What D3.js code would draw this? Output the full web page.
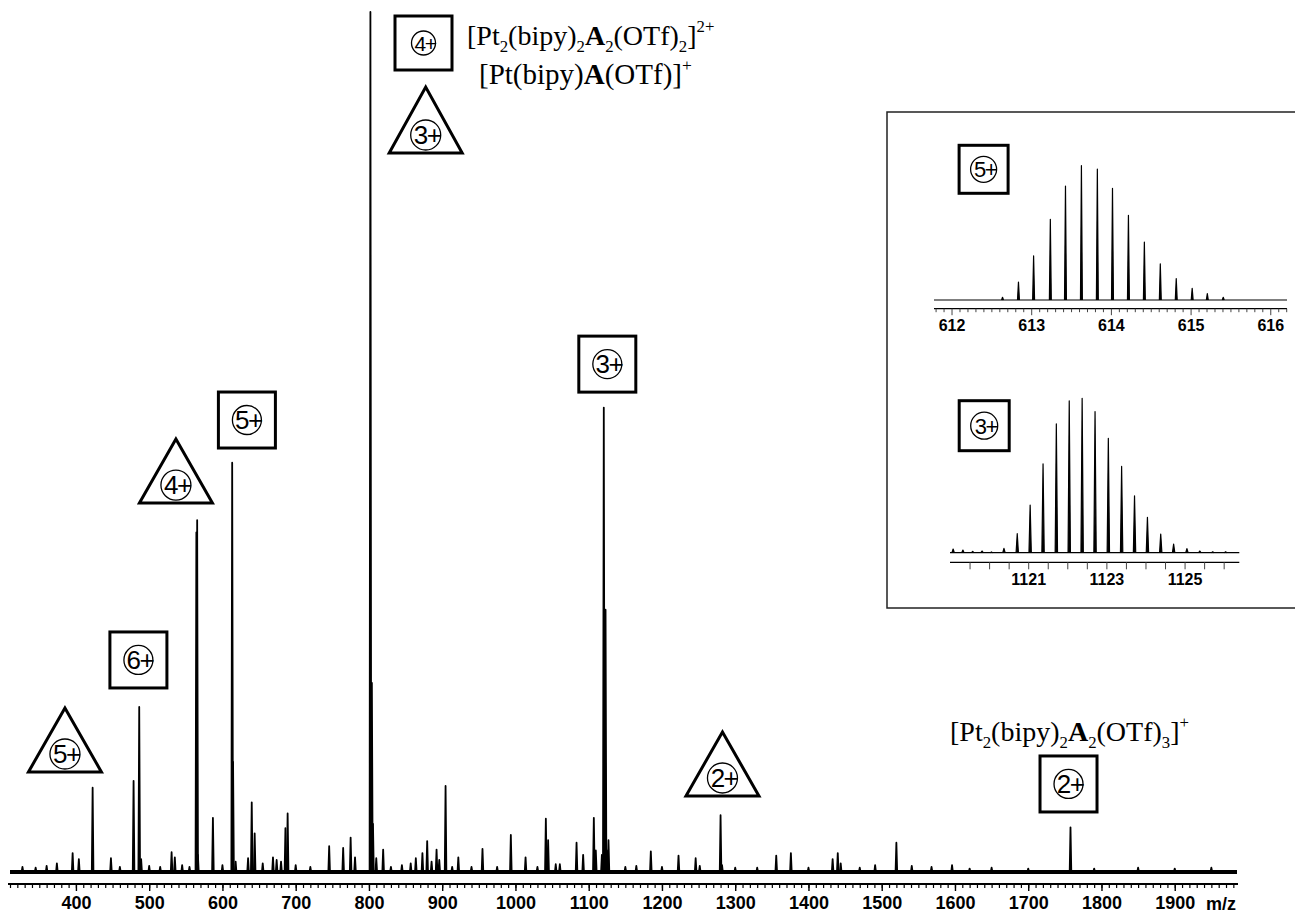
<!DOCTYPE html>
<html><head><meta charset="utf-8">
<script src="https://cdn.jsdelivr.net/npm/d3@7"></script>
<style>body{margin:0;background:#fff}svg{display:block}</style>
</head><body>
<svg id="c" width="1295" height="913"></svg>
<script>
// ---------- DATA ----------
// main spectrum: peak m/z and relative intensity (%)
const mainMz  = [327,345,360,374,395.5,404,422.8,447.8,460,478.7,486.4,489,500,515,530.6,535,545,555,564.4,565.5,566.5,587,600,613.3,614.5,618,635,640,644,655,669,674,680,686,689,700,720,745.7,764.8,775,781,802,804,805.5,810,819.4,830,845,857,864,873,879.5,885.5,892.3,896,904.6,913.6,922,940,955,975,993.7,1013.8,1030,1041.5,1044.6,1055,1060.6,1083.4,1092.4,1107,1109.7,1118,1120.6,1123,1125,1127,1150,1165,1184.8,1200,1222.6,1246,1251.6,1280,1282,1300,1330,1356,1376,1400,1433,1440,1444,1470,1491,1520,1541,1568,1596,1620,1650,1700,1757.7,1790,1850,1900,1950];
const mainInt = [0.6,0.5,0.7,1.0,2.2,1.5,9.8,1.6,0.6,10.6,19.2,1.5,0.7,0.6,2.3,1.7,0.8,0.6,39.5,40.9,2.0,6.3,0.8,47.6,12.8,1.2,1.6,8.1,4.5,1.0,1.7,1.4,1.2,5.1,6.8,0.8,0.6,3.0,2.8,4.0,1.7,100,22,5.6,1.6,2.6,0.6,0.8,1.0,1.6,2.2,3.6,1.2,2.6,1.4,10.0,0.6,1.7,0.6,2.7,0.6,4.3,1.7,0.6,6.2,3.7,0.9,0.9,3.4,2.0,6.3,2.5,2.0,54,30.5,2.5,3.7,0.6,0.7,2.4,0.6,1.9,1.6,0.7,6.6,0.8,0.5,0.5,1.9,2.2,0.5,1.5,2.2,1.0,0.5,0.8,3.4,0.7,0.6,0.8,0.4,0.5,0.4,5.2,0.4,0.5,0.4,0.5];
const mainTicksMajor = [400,500,600,700,800,900,1000,1100,1200,1300,1400,1500,1600,1700,1800,1900];

// inset 1: isotope pattern of the 5+ ion
const inset1Mz  = [612.64,612.84,613.03,613.24,613.43,613.63,613.83,614.02,614.22,614.42,614.62,614.82,615.02,615.21,615.41];
const inset1Int = [2.0,13.4,32.8,60.1,84.9,100,97.5,83.2,63.1,43.2,27.0,15.9,8.7,4.7,2.0];
const inset1Labels = [612,613,614,615,616];

// inset 2: isotope pattern of the 3+ ion
const inset2Mz  = [1119.08,1119.33,1119.58,1119.82,1120.06,1120.38,1120.72,1121.05,1121.38,1121.72,1122.05,1122.38,1122.71,1123.05,1123.39,1123.72,1124.05,1124.39,1124.72,1125.06,1125.39,1125.72,1126.05];
const inset2Int = [2.4,1.7,0.9,1.1,0.5,2.8,12.3,30.9,57.5,83.4,98.3,100,91.4,74.1,55.9,36.9,22.9,12.1,5.6,2.6,1.1,0.6,0.6];
const inset2Labels = [1121,1123,1125];

// charge-state markers (shape, charge, anchor m/z, anchor intensity = bottom of marker)
const markerShape  = ["tri","box","tri","box","box","tri","box"];
const markerCharge = ["5","6","4","5","3","2","2"];
const markerMz     = [385,485.3,536.5,633.4,1125.4,1282.6,1755];
const markerInt    = [11.63,21.4,42.9,49.3,55.8,8.84,6.98];

// ---------- DRAW ----------
const svg = d3.select("#c");
const x = d3.scaleLinear().domain([310,1985]).range([10,1237]);
const y = d3.scaleLinear().domain([0,100]).range([872,12]);
const SANS = "'Liberation Sans',Arial,Helvetica,sans-serif";

function peakPath(mz, h, hw, xs, ys){
  return d3.line().x(d=>xs(d[0])).y(d=>ys(d[1]))([[mz-hw,0],[mz,h],[mz+hw,0]]);
}

// main baseline
svg.append("line").attr("x1",x(310)).attr("x2",x(1985)).attr("y1",y(0)).attr("y2",y(0))
  .attr("stroke","#000").attr("stroke-width",4);
svg.append("g").selectAll("path").data(d3.range(mainMz.length)).join("path")
  .attr("d",i=>peakPath(mainMz[i],mainInt[i],1.1,x,y))
  .attr("fill","#000").attr("stroke","#000").attr("stroke-width",1.8).attr("stroke-linejoin","round");

// main axis
const axY = 884;
const gAx = svg.append("g").attr("transform",`translate(0,${axY})`);
gAx.append("line").attr("x1",8).attr("x2",1238).attr("stroke","#000").attr("stroke-width",2);
gAx.append("g").call(d3.axisBottom(x).tickValues(d3.range(310,1990,10)).tickSize(4).tickFormat(""))
  .call(g=>g.select(".domain").remove()).selectAll("line").attr("stroke-width",1.2);
gAx.append("g").call(d3.axisBottom(x).tickValues(mainTicksMajor).tickSize(7).tickPadding(5).tickFormat(d3.format("d")))
  .call(g=>g.select(".domain").remove())
  .call(g=>g.selectAll("line").attr("stroke-width",1.4))
  .call(g=>g.selectAll("text").attr("font-family",SANS).attr("font-weight","bold").attr("font-size",18).attr("fill","#000"));
svg.append("text").attr("x",1221).attr("y",910).attr("text-anchor","middle")
  .attr("font-family",SANS).attr("font-weight","bold").attr("font-size",18).text("m/z");

// symbols
function circled(g, cx, cy, r, txt, fs){
  g.append("circle").attr("cx",cx).attr("cy",cy).attr("r",r).attr("fill","none").attr("stroke","#000").attr("stroke-width",1.3);
  g.append("text").attr("x",cx+1.5).attr("y",cy+fs*0.36).attr("text-anchor","middle")
    .attr("font-family",SANS).attr("font-size",fs).attr("letter-spacing",-1.5).text(txt+"+");
}
function boxSym(g, cx, bottom, w, h, r, txt, fs){
  g.append("rect").attr("x",cx-w/2).attr("y",bottom-h).attr("width",w).attr("height",h)
    .attr("fill","#fff").attr("stroke","#000").attr("stroke-width",3);
  circled(g, cx, bottom-h/2, r, txt, fs);
}
function triSym(g, cx, bottom, w, h, r, txt, fs){
  g.append("path").attr("d",`M${cx-w/2},${bottom}L${cx},${bottom-h}L${cx+w/2},${bottom}Z`)
    .attr("fill","#fff").attr("stroke","#000").attr("stroke-width",3).attr("stroke-linejoin","miter");
  circled(g, cx, bottom-18, r, txt, fs);
}
const gm = svg.append("g");
markerShape.forEach((s,i)=>{
  if(s==="box") boxSym(gm, x(markerMz[i]), y(markerInt[i]), 57, 56, 14.5, markerCharge[i], 26);
  else triSym(gm, x(markerMz[i]), y(markerInt[i]), 73, 64, 15, markerCharge[i], 26);
});
// legend symbols
boxSym(gm, 423.5, 70, 57, 54, 12, "4", 21);
triSym(gm, 425.7, 153, 73, 66, 15, "3", 26);

// rich text labels
function rich(g, x0, y0, parts, fs){
  const t = g.append("text").attr("x",x0).attr("y",y0)
    .attr("font-family","'Liberation Serif','Times New Roman',serif").attr("font-size",fs);
  let cur = 0;
  parts.forEach(([s,k])=>{
    let target = 0, size = fs, weight="normal";
    if(k==="sub"){target = fs*0.25; size = fs*0.6;}
    if(k==="sup"){target = -fs*0.45; size = fs*0.6;}
    if(k==="b"){weight="bold";}
    t.append("tspan").attr("dy",target-cur).attr("font-size",size).attr("font-weight",weight).text(s);
    cur = target;
  });
}
const gl = svg.append("g");
rich(gl, 467, 45, [["[Pt","n"],["2","sub"],["(bipy)","n"],["2","sub"],["A","b"],["2","sub"],["(OTf)","n"],["2","sub"],["]","n"],["2+","sup"]], 28);
rich(gl, 479, 84, [["[Pt(bipy)","n"],["A","b"],["(OTf)]","n"],["+","sup"]], 29);
rich(gl, 950, 741, [["[Pt","n"],["2","sub"],["(bipy)","n"],["2","sub"],["A","b"],["2","sub"],["(OTf)","n"],["3","sub"],["]","n"],["+","sup"]], 28);

// ---------- INSET ----------
svg.append("rect").attr("x",887).attr("y",112).attr("width",450).attr("height",496)
  .attr("fill","none").attr("stroke","#222").attr("stroke-width",1.5);

function inset(mz, inten, dom, rng, base, top, hw, ticks, tickLen, majorTest, labels, axY, fs){
  const xs = d3.scaleLinear().domain(dom).range(rng);
  const ys = d3.scaleLinear().domain([0,100]).range([base,top]);
  const g = svg.append("g");
  g.append("line").attr("x1",rng[0]).attr("x2",rng[1]).attr("y1",base).attr("y2",base).attr("stroke","#000").attr("stroke-width",1.2);
  g.selectAll("path").data(d3.range(mz.length)).join("path")
    .attr("d",i=>peakPath(mz[i],inten[i],hw,xs,ys))
    .attr("fill","#000").attr("stroke","#000").attr("stroke-width",1.2).attr("stroke-linejoin","round");
  const ga = g.append("g").attr("transform",`translate(0,${axY})`);
  ga.append("line").attr("x1",rng[0]).attr("x2",rng[1]).attr("stroke","#000").attr("stroke-width",1.3);
  ga.append("g").call(d3.axisBottom(xs).tickValues(ticks).tickFormat("").tickSize(tickLen))
    .call(g=>g.select(".domain").remove())
    .selectAll(".tick line").attr("y2",d=>majorTest(d)?6.5:tickLen).attr("stroke","#444");
  ga.append("g").call(d3.axisBottom(xs).tickValues(labels).tickSize(0).tickPadding(11).tickFormat(d3.format("d")))
    .call(g=>g.select(".domain").remove())
    .selectAll("text").attr("font-family",SANS).attr("font-weight","bold").attr("font-size",fs).attr("fill","#000");
  return g;
}
inset(inset1Mz, inset1Int, [611.78,616.21],[934,1287], 300, 165.7, 0.012,
  d3.range(6118,6163,1).map(v=>v/10), 3.5, d=>Math.abs(d-Math.round(d))<1e-6, inset1Labels, 308.7, 16);
inset(inset2Mz, inset2Int, [1119.0,1126.4],[950,1239.3], 552.7, 398.3, 0.03,
  d3.range(11195,11265,5).map(v=>v/10), 7, d=>false, inset2Labels, 562.3, 16);
// inset charge boxes
boxSym(svg, 983.6, 193.3, 49, 48, 13, "5", 22);
boxSym(svg, 984.2, 450.7, 50, 50, 13.5, "3", 22);
</script>
</body></html>
